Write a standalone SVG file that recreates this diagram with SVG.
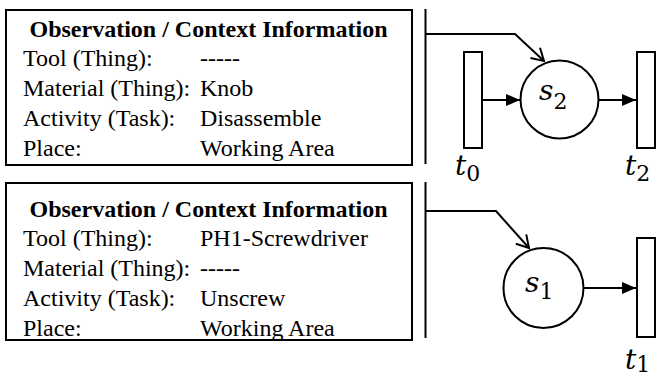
<svg xmlns="http://www.w3.org/2000/svg" width="656" height="378" viewBox="0 0 656 378">
<defs>
<style>
.box{fill:#fff;stroke:#000;stroke-width:2}
.t{font-family:"Liberation Serif","Times New Roman",serif;font-size:24px;fill:#000}
.h{font-weight:bold}
.ln{fill:none;stroke:#000;stroke-width:2}
.pl{fill:#fff;stroke:#000;stroke-width:2}
.m{font-family:"DejaVu Serif",serif;font-style:italic;font-size:28px;fill:#000}
.sub{font-family:"DejaVu Serif",serif;font-style:normal;font-size:22px}
</style>
<marker id="fa" viewBox="0 0 14 12" refX="14" refY="6" markerWidth="14" markerHeight="12" markerUnits="userSpaceOnUse" orient="auto">
<path d="M0,0 L14,6 L0,12 Z" fill="#000"/>
</marker>
<marker id="oa" viewBox="0 0 16 16" refX="15" refY="8" markerWidth="16" markerHeight="16" markerUnits="userSpaceOnUse" orient="auto">
<path d="M3,1 L15,8 L3,15" fill="none" stroke="#000" stroke-width="2"/>
</marker>
</defs>
<rect width="656" height="378" fill="#fff"/>

<g id="info1">
<rect class="box" x="6" y="10" width="406" height="155"/>
<text class="t h" x="208.5" y="36.5" text-anchor="middle">Observation / Context Information</text>
<text class="t" x="23" y="65.5">Tool (Thing):</text>
<text class="t" x="200" y="65.5">-----</text>
<text class="t" x="23" y="95.5">Material (Thing):</text>
<text class="t" x="200" y="95.5">Knob</text>
<text class="t" x="23" y="125.5">Activity (Task):</text>
<text class="t" x="200" y="125.5">Disassemble</text>
<text class="t" x="23" y="155.5">Place:</text>
<text class="t" x="200" y="155.5">Working Area</text>
</g>

<g id="info2">
<rect class="box" x="6" y="183" width="406" height="157"/>
<text class="t h" x="208.5" y="216.5" text-anchor="middle">Observation / Context Information</text>
<text class="t" x="23" y="246">Tool (Thing):</text>
<text class="t" x="200" y="246">PH1-Screwdriver</text>
<text class="t" x="23" y="276">Material (Thing):</text>
<text class="t" x="200" y="276">-----</text>
<text class="t" x="23" y="306">Activity (Task):</text>
<text class="t" x="200" y="306">Unscrew</text>
<text class="t" x="23" y="336">Place:</text>
<text class="t" x="200" y="336">Working Area</text>
</g>

<g id="t0">
<rect class="pl" x="464" y="52" width="18" height="96"/>
<text class="m" x="455" y="175">t<tspan class="sub" dy="6">0</tspan></text>
</g>
<g id="s2">
<circle class="pl" cx="559.5" cy="99.5" r="39"/>
<text class="m" x="539" y="100">s<tspan class="sub" dy="9">2</tspan></text>
</g>
<g id="t2">
<rect class="pl" x="637" y="52" width="18" height="96"/>
<text class="m" x="625" y="175">t<tspan class="sub" dy="6">2</tspan></text>
</g>
<g id="s1">
<circle class="pl" cx="543.5" cy="288" r="40"/>
<text class="m" x="525" y="292">s<tspan class="sub" dy="7">1</tspan></text>
</g>
<g id="t1">
<rect class="pl" x="637" y="238" width="18" height="99"/>
<text class="m" x="625" y="369">t<tspan class="sub" dy="3">1</tspan></text>
</g>

<g id="connectors">
<line class="ln" x1="425.5" y1="9" x2="425.5" y2="164"/>
<line class="ln" x1="425.5" y1="182" x2="425.5" y2="338"/>
<polyline class="ln" points="425.5,34 515,34 544,61" marker-end="url(#oa)"/>
<polyline class="ln" points="425.5,211 496,211 529,248" marker-end="url(#oa)"/>
<line class="ln" x1="482" y1="100" x2="520" y2="100" marker-end="url(#fa)"/>
<line class="ln" x1="598.5" y1="100" x2="636" y2="100" marker-end="url(#fa)"/>
<line class="ln" x1="583.5" y1="288" x2="636" y2="288" marker-end="url(#fa)"/>
</g>
</svg>
